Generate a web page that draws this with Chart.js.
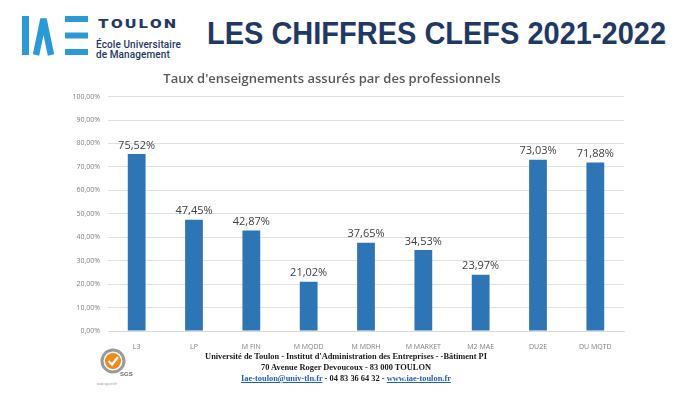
<!DOCTYPE html>
<html lang="fr">
<head>
<meta charset="utf-8">
<title>Les chiffres clefs 2021-2022</title>
<script src="https://cdn.jsdelivr.net/npm/chart.js@4.4.0/dist/chart.umd.min.js"></script>
<style>
  * { box-sizing: border-box; }
  body { margin: 0; width: 700px; height: 394px; background: #fff; position: relative; overflow: hidden; font-family: "Liberation Sans", Arial, sans-serif; }
  .logo { position: absolute; left: 0; top: 0; }
  .brand-big { position: absolute; left: 98px; top: 17px; color: #1f3864; font-family: Roboto, sans-serif; font-weight: 900; font-size: 13.5px; line-height: 13.5px; letter-spacing: 2px; transform-origin: 0 0; transform: scaleX(1.25); }
  .brand-small { position: absolute; left: 96px; top: 39.5px; color: #1f3864; font-family: Roboto, sans-serif; font-weight: 500; font-size: 10px; line-height: 10.5px; letter-spacing: 0.1px; }
  .headline { position: absolute; left: 207px; top: 16px; font-family: "Liberation Sans", Arial, sans-serif; font-weight: 700; font-size: 31px; color: #1f3864; white-space: nowrap; transform-origin: 0 0; transform: scaleX(0.935); }
  .chart-box { position: absolute; left: 40px; top: 65px; width: 620px; height: 285px; }
  .footer { position: absolute; left: 146px; top: 351px; width: 400px; text-align: center; font-family: "Liberation Serif", serif; font-weight: 700; font-size: 8.4px; line-height: 11px; color: #1a1a1a; white-space: nowrap; }
  .footer a { color: #1f5fbf; text-decoration: underline; }
  .sgs { position: absolute; left: 92px; top: 346px; }
</style>
</head>
<body>
<svg class="logo" width="95" height="62">
  <rect x="22" y="16" width="7" height="39" fill="#2a9ad6"/>
  <polyline points="36,55 43.5,19 51,55" fill="none" stroke="#2a9ad6" stroke-width="6.5"/>
  <rect x="65" y="16" width="23" height="6" fill="#2a9ad6"/>
  <rect x="65" y="32.5" width="23" height="6" fill="#2a9ad6"/>
  <rect x="65" y="49" width="23" height="6" fill="#2a9ad6"/>
</svg>
<div class="brand-big">TOULON</div>
<div class="brand-small">École Universitaire<br>de Management</div>
<div class="headline">LES CHIFFRES CLEFS 2021-2022</div>

<div class="chart-box"><canvas id="chart"></canvas></div>

<svg class="sgs" width="45" height="45">
  <circle cx="21" cy="15" r="11" fill="none" stroke="#9a9a9a" stroke-width="3"/>
  <circle cx="21" cy="15" r="8" fill="#ef8a1e"/>
  <polyline points="16.5,15 20,18.5 26,11" fill="none" stroke="#fff" stroke-width="2.2"/>
  <text x="28" y="30" font-family="Liberation Sans" font-size="6" font-weight="700" fill="#666">SGS</text>
  <text x="5" y="39" font-family="Liberation Sans" font-size="3" fill="#999">www.sgsicert.fr</text>
</svg>
<div class="footer">
  Université de Toulon - Institut d'Administration des Entreprises - -Bâtiment PI<br>
  70 Avenue Roger Devoucoux - 83 000 TOULON<br>
  <a>Iae-toulon@univ-tln.fr</a> - 04 83 36 64 32 - <a>www.iae-toulon.fr</a>
</div>

<script>
const categories = ['L3', 'LP', 'M FIN', 'M MQDD', 'M MDRH', 'M MARKET', 'M2 MAE', 'DU2E', 'DU MQTD'];
const rates = [75.52, 47.45, 42.87, 21.02, 37.65, 34.53, 23.97, 73.03, 71.88];
const chartTitle = "Taux d'enseignements assurés par des professionnels";

function pct(v) {
    return v.toFixed(2).replace('.', ',') + '%';
}

// étiquettes de valeur au-dessus des barres
const valueLabels = {
    id: 'valueLabels',
    afterDatasetsDraw(chart) {
        const ctx = chart.ctx;
        const meta = chart.getDatasetMeta(0);
        ctx.save();
        ctx.font = '11px "Open Sans", sans-serif';
        ctx.fillStyle = '#404040';
        ctx.textAlign = 'center';
        ctx.textBaseline = 'bottom';
        meta.data.forEach((bar, i) => {
            ctx.fillText(pct(rates[i]), bar.x, bar.y - 3);
        });
        ctx.restore();
    }
};

new Chart(document.getElementById('chart'), {
    type: 'bar',
    data: {
        labels: categories,
        datasets: [{
            data: rates,
            backgroundColor: '#2e75b6',
            barPercentage: 0.31,
            categoryPercentage: 1
        }]
    },
    options: {
        responsive: true,
        maintainAspectRatio: false,
        animation: false,
        layout: { padding: { left: 0, right: 36, top: 0, bottom: 0 } },
        plugins: {
            legend: { display: false },
            tooltip: { enabled: false },
            title: {
                display: true,
                text: chartTitle,
                color: '#595959',
                font: { family: '"Open Sans", sans-serif', size: 13, weight: '600' },
                padding: { top: 6, bottom: 10 }
            }
        },
        scales: {
            x: {
                grid: { display: false },
                border: { color: '#d9d9d9' },
                ticks: { color: '#7f7f7f', font: { size: 7, family: '"Open Sans", sans-serif' }, padding: 4, maxRotation: 0 },
                afterFit(scale) { scale.height = 19; }
            },
            y: {
                min: 0,
                max: 100,
                border: { display: false },
                grid: { color: '#e0e0e0', drawTicks: false },
                ticks: {
                    stepSize: 10,
                    color: '#7f7f7f',
                    padding: 8,
                    font: { size: 7, family: '"Open Sans", sans-serif' },
                    callback: (v) => pct(v)
                },
                afterFit(scale) { scale.width = 68; }
            }
        }
    },
    plugins: [valueLabels]
});
</script>
</body>
</html>
